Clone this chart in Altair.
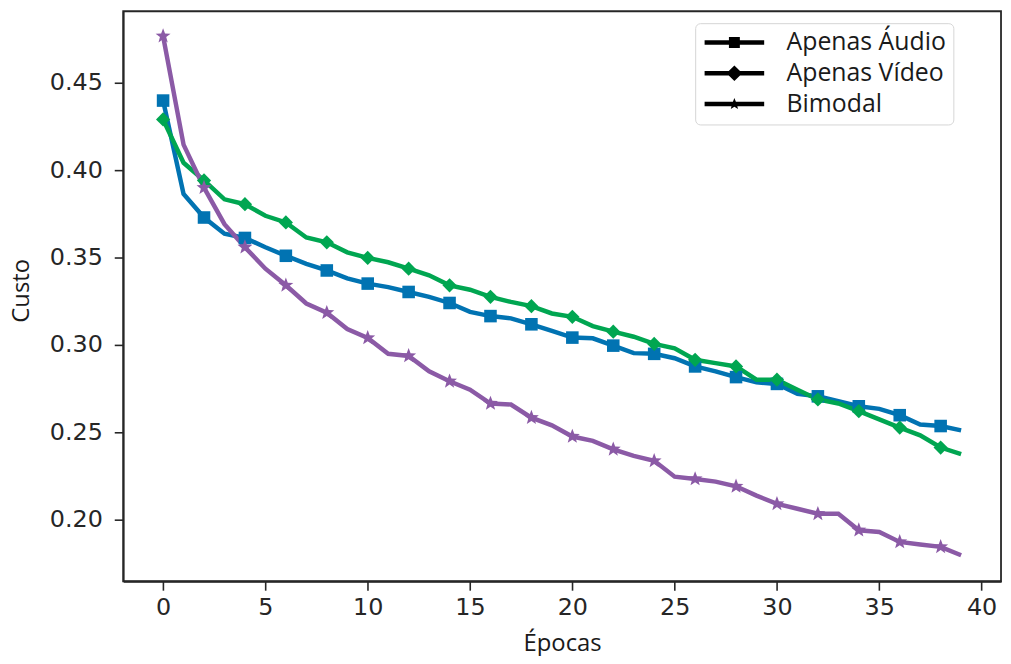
import math
import altair as alt
import pandas as pd

epochs = list(range(40))
series_names = ["Apenas Áudio", "Apenas Vídeo", "Bimodal"]

audio = [0.4398, 0.3864, 0.3729, 0.3636, 0.3612, 0.3559, 0.3510, 0.3464, 0.3426, 0.3381,
         0.3351, 0.3331, 0.3303, 0.3275, 0.3240, 0.3189, 0.3165, 0.3152, 0.3118, 0.3080,
         0.3042, 0.3038, 0.2996, 0.2953, 0.2949, 0.2924, 0.2877, 0.2849, 0.2816, 0.2786,
         0.2777, 0.2720, 0.2706, 0.2678, 0.2649, 0.2634, 0.2598, 0.2545, 0.2536, 0.2511]
video = [0.4290, 0.4042, 0.3941, 0.3833, 0.3805, 0.3739, 0.3701, 0.3615, 0.3587, 0.3530,
         0.3498, 0.3473, 0.3436, 0.3398, 0.3341, 0.3316, 0.3275, 0.3246, 0.3222, 0.3180,
         0.3161, 0.3108, 0.3076, 0.3047, 0.3006, 0.2981, 0.2915, 0.2896, 0.2877, 0.2801,
         0.2801, 0.2744, 0.2688, 0.2665, 0.2621, 0.2574, 0.2527, 0.2483, 0.2413, 0.2375]
bimodal = [0.4767, 0.4146, 0.3900, 0.3691, 0.3559, 0.3436, 0.3341, 0.3237, 0.3184, 0.3091,
           0.3040, 0.2949, 0.2937, 0.2849, 0.2792, 0.2744, 0.2665, 0.2659, 0.2584, 0.2540,
           0.2476, 0.2451, 0.2403, 0.2365, 0.2337, 0.2246, 0.2233, 0.2218, 0.2191, 0.2138,
           0.2091, 0.2063, 0.2034, 0.2034, 0.1940, 0.1930, 0.1873, 0.1858, 0.1845, 0.1797]

x_ticks = [0, 5, 10, 15, 20, 25, 30, 35, 40]
y_ticks = [0.20, 0.25, 0.30, 0.35, 0.40, 0.45]

colors = ["#0173B2", "#00A651", "#8B5AA6"]
marker_sizes = [160, 250, 185]

rows = []
for name, vals in zip(series_names, [audio, video, bimodal]):
    for e, v in zip(epochs, vals):
        rows.append({"epoch": e, "custo": v, "serie": name})
df = pd.DataFrame(rows)


# symbol paths (Vega scales custom paths by sqrt(size)/2)
def rect(x0, x1, y0, y1):
    return f"M{x0},{y0}L{x1},{y0}L{x1},{y1}L{x0},{y1}Z"


def star(cx, R, r):
    pts = []
    for k in range(10):
        a = math.radians(-90 + 36 * k)
        rad = R if k % 2 == 0 else r
        pts.append(f"{cx + rad * math.cos(a):.3f},{rad * math.sin(a):.3f}")
    return "M" + "L".join(pts) + "Z"


marker_shapes = ["square", "diamond", star(0, 1, 0.42)]

line_path = rect(-1, 5, -0.225, 0.225)
legend_paths = [
    line_path + rect(1.45, 2.55, -0.55, 0.55),
    line_path + "M2,-0.78L2.8,0L2,0.78L1.2,0Z",
    line_path + star(2, 0.62, 0.27),
]

color_scale = alt.Scale(domain=series_names, range=colors)


def x_enc():
    return alt.X("epoch:Q",
                 scale=alt.Scale(domain=[-1.95, 40.95], nice=False, zero=False),
                 axis=alt.Axis(values=x_ticks, title="Épocas", format="d",
                               labelPadding=5, titleY=70, titleBaseline="alphabetic"))


def y_enc():
    return alt.Y("custo:Q",
                 scale=alt.Scale(domain=[0.1648, 0.4909], nice=False, zero=False),
                 axis=alt.Axis(values=y_ticks, title="Custo", format=".2f",
                               labelPadding=12, titleX=-102, titleY=281,
                               titleBaseline="middle"))


base = alt.Chart(df)

lines = base.mark_line(strokeWidth=4.5).encode(
    x=x_enc(), y=y_enc(),
    color=alt.Color("serie:N", scale=color_scale, legend=None),
)

points = base.transform_filter(alt.datum.epoch % 2 == 0).mark_point(
    filled=True, opacity=1
).encode(
    x=x_enc(), y=y_enc(),
    color=alt.Color("serie:N", scale=color_scale, legend=None),
    shape=alt.Shape("serie:N", scale=alt.Scale(domain=series_names, range=marker_shapes),
                    legend=None),
    size=alt.Size("serie:N", scale=alt.Scale(domain=series_names, range=marker_sizes),
                  legend=None),
)

leg = alt.Legend(
    title=None, orient="none", legendX=576, legendY=12,
    padding=7, symbolSize=400, symbolStrokeWidth=0, symbolOpacity=1,
    labelOffset=60, labelFont="Open Sans", labelFontSize=25,
    labelColor="#1a1a1a", labelExpr="datum.label + '     '",
    rowPadding=5, fillColor="white", strokeColor="#d6d6d6",
    cornerRadius=5, labelLimit=400,
)

legend_layer = base.transform_filter(alt.datum.epoch == 0).mark_point(
    filled=True, opacity=0
).encode(
    x=x_enc(), y=y_enc(),
    fill=alt.Fill("serie:N", scale=color_scale, legend=leg),
    shape=alt.Shape("serie:N", scale=alt.Scale(domain=series_names, range=legend_paths),
                    legend=leg),
)

chart = alt.layer(lines, points, legend_layer).resolve_scale(
    shape="independent"
).properties(
    width=884, height=574,
    autosize=alt.AutoSizeParams(type="none"),
    padding={"left": 116, "top": 1, "right": 2, "bottom": 73},
).configure_view(
    stroke="#262626", strokeWidth=1.8
).configure_axis(
    grid=False, domainColor="#262626", domainWidth=1.8,
    tickColor="#262626", tickWidth=1.6, tickSize=9,
    labelFont="DejaVu Sans", labelFontSize=24, labelColor="#262626",
    titleFont="Open Sans", titleFontSize=24, titleColor="#1a1a1a",
    titleFontWeight="normal",
)

chart.save("out.html", embed_options={"renderer": "svg", "actions": False})
